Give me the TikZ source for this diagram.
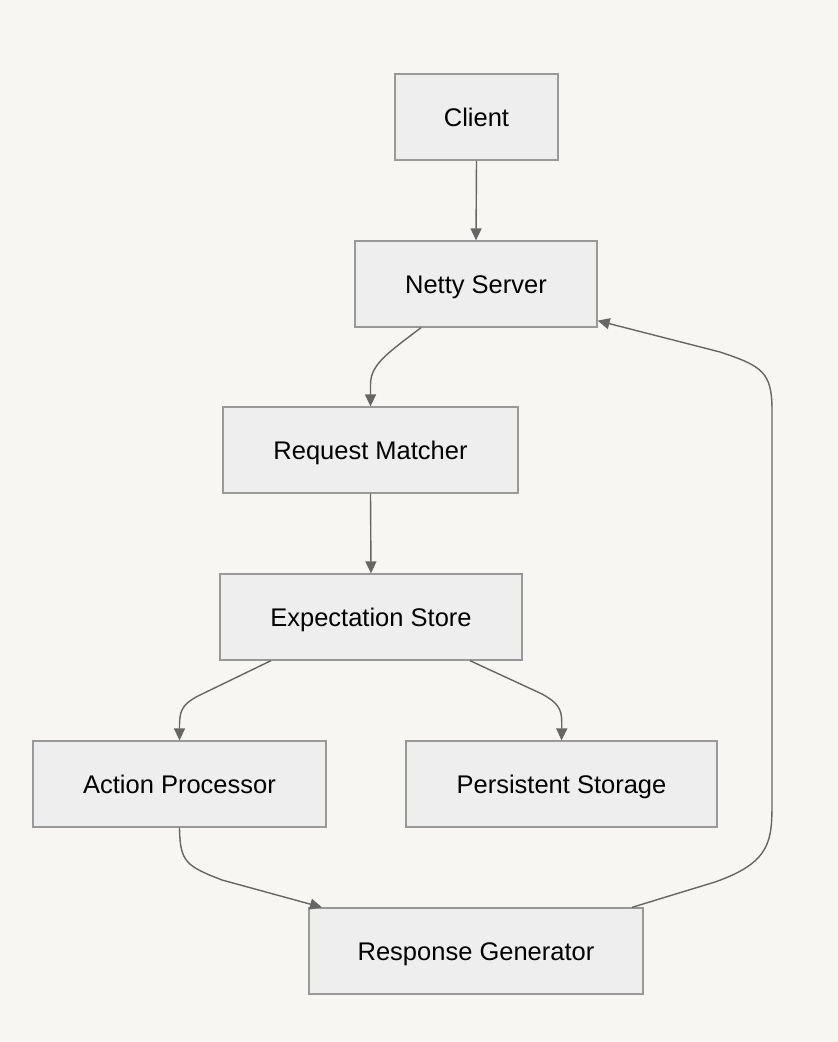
\documentclass[tikz,border=0pt]{standalone}
\usepackage{fontspec}
\setmainfont{Liberation Sans}
\usetikzlibrary{arrows.meta}
\definecolor{bg}{HTML}{F7F6F2}
\definecolor{boxfill}{HTML}{EEEEEE}
\definecolor{boxline}{HTML}{999999}
\definecolor{edge}{HTML}{666666}
\begin{document}
\begin{tikzpicture}[x=1pt,y=-1pt,
  box/.style={draw=boxline,fill=boxfill,line width=1.3pt,minimum height=86pt,inner sep=0pt,text height=18pt,text depth=0pt,font=\fontsize{25.5}{30}\selectfont},
  conn/.style={draw=edge,line width=1.4pt,-{Triangle[length=12pt,width=11pt]}}]
\fill[bg] (0,0) rectangle (838,1042);
\useasboundingbox (0,0) rectangle (838,1042);
\node[box,minimum width=163pt] (client) at (476.5,117) {Client};
\node[box,minimum width=242pt] (netty) at (476,284) {Netty Server};
\node[box,minimum width=295pt] (rm) at (370.5,450) {Request Matcher};
\node[box,minimum width=302pt] (es) at (371,617) {Expectation Store};
\node[box,minimum width=293pt] (ap) at (179.5,784) {Action Processor};
\node[box,minimum width=311pt] (ps) at (561.5,784) {Persistent Storage};
\node[box,minimum width=334pt] (rg) at (476,951) {Response Generator};
\draw[conn] (client.south) -- (netty.north);
\draw[conn] ([xshift=-55pt]netty.south) .. controls (385,355) and (370.5,365) .. (370.5,385) -- (rm.north);
\draw[conn] (rm.south) -- (es.north);
\draw[conn] ([xshift=-100pt]es.south) -- (200,695) .. controls (180,705) and (179.5,712) .. (ap.north);
\draw[conn] ([xshift=99pt]es.south) -- (542,694) .. controls (562,705) and (562,712) .. (ps.north);
\draw[conn] (ap.south) .. controls (180,862) and (186,866) .. (222,880) -- ([xshift=-154pt]rg.north);
\draw[conn] ([xshift=156pt]rg.north) -- (715,882) .. controls (772,862) and (772,840) .. (772,800) -- (772,410) .. controls (772,372) and (762,366) .. (720,352) -- ([yshift=7pt]netty.south east);
\end{tikzpicture}
\end{document}
